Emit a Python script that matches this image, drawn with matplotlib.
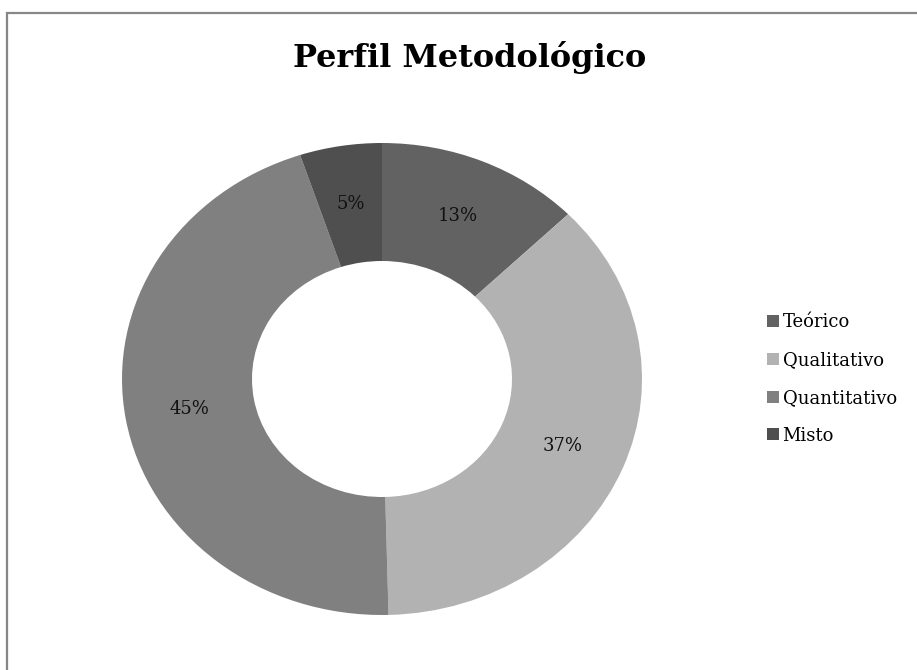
import matplotlib
matplotlib.use("Agg")
import matplotlib.pyplot as plt
from matplotlib.patches import Rectangle

categorias = ["Teórico", "Qualitativo", "Quantitativo", "Misto"]
percentuais = [12.7, 36.9, 45.3, 5.1]
cores = ["#626262", "#b2b2b2", "#808080", "#4f4f4f"]

plt.rcParams["font.family"] = ["DejaVu Serif"]

fig = plt.figure(figsize=(9.17, 6.70), dpi=100)

# moldura cinza do grafico (estilo Excel)
fig.patches.append(Rectangle((6.5 / 917, -0.1), 1.2, 1.1 - 13.5 / 670,
                             transform=fig.transFigure, fill=False,
                             edgecolor="#878787", linewidth=1.6))

# eixo com o mesmo tamanho em pixels do donut original (levemente achatado)
ax = fig.add_axes([122 / 917, 55 / 670, 520 / 917, 472 / 670])
wedges, texts, autotexts = ax.pie(
    percentuais, colors=cores, startangle=90, counterclock=False,
    autopct="%.0f%%", pctdistance=0.75,
    wedgeprops=dict(width=0.5, edgecolor="none"),
    textprops=dict(fontsize=13, color="#111111"))
ax.set_aspect("auto")
ax.set_xlim(-1, 1)
ax.set_ylim(-1, 1)
ax.axis("off")

fig.text(470 / 917, 1 - 58 / 670, "Perfil Metodológico", ha="center",
         va="center", fontsize=23, fontweight="bold")

fig.legend(wedges, categorias, loc="center left",
           bbox_to_anchor=(751 / 917, 1 - 379 / 670), frameon=False,
           fontsize=13, handlelength=0.65, handleheight=0.65,
           handletextpad=0.2, labelspacing=1.1)

fig.savefig("out.png", dpi=100, facecolor="white")
